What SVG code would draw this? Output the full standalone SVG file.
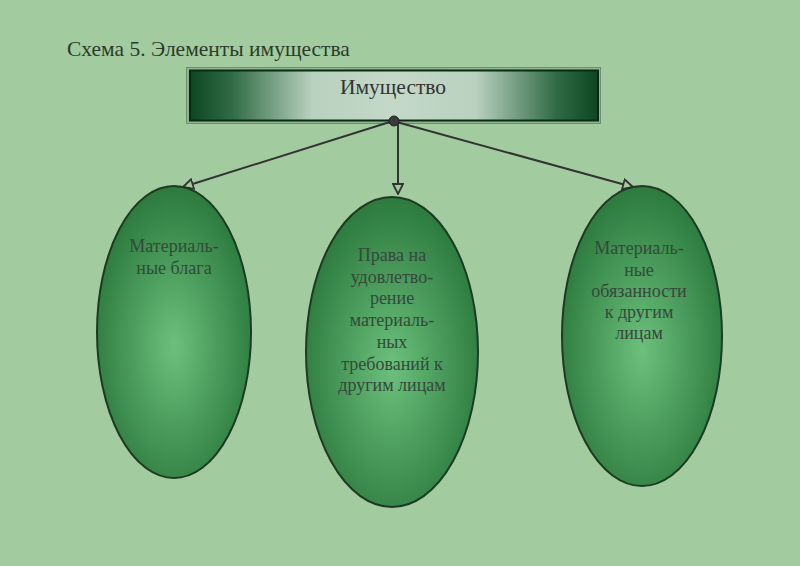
<svg xmlns="http://www.w3.org/2000/svg" width="800" height="566" viewBox="0 0 800 566">
<defs>
<linearGradient id="hdr" x1="0" y1="0" x2="1" y2="0">
<stop offset="0" stop-color="#0c4722"/>
<stop offset="0.1" stop-color="#2f6a44"/>
<stop offset="0.3" stop-color="#b9d1bf"/>
<stop offset="0.5" stop-color="#c4d8c8"/>
<stop offset="0.7" stop-color="#b9d1bf"/>
<stop offset="0.9" stop-color="#2f6a44"/>
<stop offset="1" stop-color="#0c4722"/>
</linearGradient>
<radialGradient id="ell" cx="0.5" cy="0.55" r="0.55">
<stop offset="0" stop-color="#6cc07c"/>
<stop offset="1" stop-color="#2c7a3e"/>
</radialGradient>
<marker id="arr" viewBox="0 0 12 12" refX="11" refY="6" markerWidth="12" markerHeight="12" markerUnits="userSpaceOnUse" orient="auto">
<path d="M1,1 L11,6 L1,11 Z" fill="#a2cc9f" stroke="#333" stroke-width="1.8"/>
</marker>
<style>
.t{font-family:"Liberation Serif",serif;fill:#34493a;font-size:18px;text-anchor:middle}
.e{fill:url(#ell);stroke:#1e3a22;stroke-width:2}
.c{stroke:#333;stroke-width:2;fill:none}
</style>
</defs>
<rect width="800" height="566" fill="#a2cc9f"/>
<text x="67" y="56" style="font-family:'Liberation Serif',serif;font-size:21.5px;fill:#2c3a2c">Схема 5. Элементы имущества</text>
<g id="header">
<rect x="186.5" y="67.5" width="414" height="56" fill="#8fb58f" stroke="#6f8f6f"/>
<rect x="190" y="70.5" width="408" height="50" fill="url(#hdr)" stroke="#0b2a12" stroke-width="2"/>
<text x="393" y="94" style="font-family:'Liberation Serif',serif;font-size:21.5px;fill:#333;text-anchor:middle">Имущество</text>
</g>
<g id="connectors">
<line class="c" x1="393" y1="121" x2="183" y2="187" marker-end="url(#arr)"/>
<line class="c" x1="398" y1="121" x2="398" y2="194" marker-end="url(#arr)"/>
<line class="c" x1="393" y1="121" x2="633" y2="187" marker-end="url(#arr)"/>
<circle cx="394" cy="121" r="5" fill="#3a3a3a" stroke="#222" stroke-width="1"/>
</g>
<g id="n1">
<ellipse class="e" cx="174" cy="332" rx="77" ry="146"/>
<text class="t" x="174" y="252">Материаль-</text>
<text class="t" x="174" y="274">ные блага</text>
</g>
<g id="n2">
<ellipse class="e" cx="392" cy="352" rx="86" ry="155"/>
<text class="t" x="392" y="261">Права на</text>
<text class="t" x="392" y="283">удовлетво-</text>
<text class="t" x="392" y="304">рение</text>
<text class="t" x="392" y="326">материаль-</text>
<text class="t" x="392" y="348">ных</text>
<text class="t" x="392" y="370">требований к</text>
<text class="t" x="392" y="391">другим лицам</text>
</g>
<g id="n3">
<ellipse class="e" cx="642" cy="336" rx="80" ry="150"/>
<text class="t" x="639" y="254">Материаль-</text>
<text class="t" x="639" y="276">ные</text>
<text class="t" x="639" y="297">обязанности</text>
<text class="t" x="639" y="318">к другим</text>
<text class="t" x="639" y="339">лицам</text>
</g>
</svg>
